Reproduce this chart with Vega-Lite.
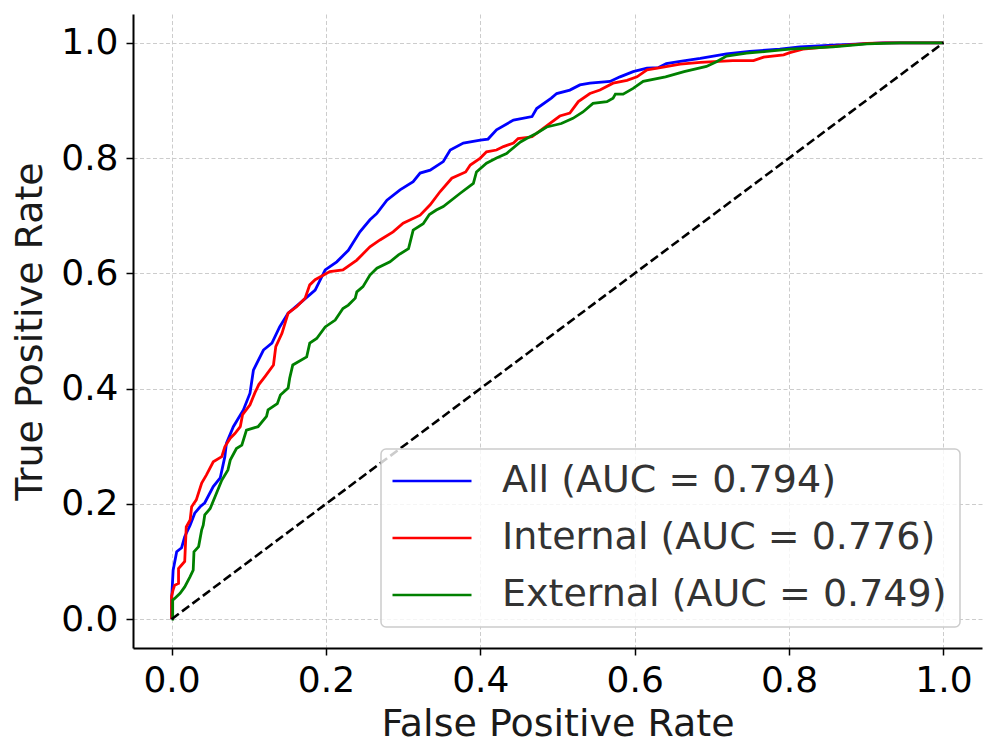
{
  "$schema": "https://vega.github.io/schema/vega-lite/v6.json",
  "width": 849,
  "height": 634,
  "autosize": {"type": "none"},
  "padding": {"left": 133, "top": 14, "right": 14, "bottom": 108},
  "background": "white",
  "config": {
    "view": {"stroke": null},
    "font": "DejaVu Sans",
    "axis": {
      "grid": true,
      "gridColor": "#cccccc",
      "gridDash": [4, 2.5],
      "gridWidth": 1,
      "domainColor": "#000000",
      "domainWidth": 2,
      "tickColor": "#000000",
      "tickWidth": 1.5,
      "tickSize": 7,
      "labelFont": "DejaVu Sans",
      "labelFontSize": 36,
      "labelColor": "#000000",
      "labelPadding": 8,
      "labelFlush": false,
      "labelOverlap": false,
      "titleFont": "DejaVu Sans",
      "titleFontSize": 38,
      "titleFontWeight": "normal",
      "titleColor": "#1a1a1a"
    },
    "legend": {
      "orient": "none",
      "legendX": 248,
      "legendY": 435,
      "padding": 13,
      "cornerRadius": 5,
      "strokeColor": "#cccccc",
      "strokeWidth": 1.5,
      "fillColor": "rgba(255,255,255,0.8)",
      "labelFont": "DejaVu Sans",
      "labelFontSize": 38,
      "labelColor": "#333333",
      "labelLimit": 0,
      "labelOffset": 51,
      "rowPadding": 19,
      "symbolType": "M-4,0L4,0",
      "symbolSize": 390,
      "symbolOffset": 19,
      "symbolStrokeWidth": 2.5
    }
  },
  "datasets": {
    "roc": [
      {"series": "All (AUC = 0.794)", "i": 0, "fpr": 0, "tpr": 0},
      {"series": "All (AUC = 0.794)", "i": 1, "fpr": 0, "tpr": 0.033},
      {"series": "All (AUC = 0.794)", "i": 2, "fpr": 0.002, "tpr": 0.085},
      {"series": "All (AUC = 0.794)", "i": 3, "fpr": 0.0066, "tpr": 0.117},
      {"series": "All (AUC = 0.794)", "i": 4, "fpr": 0.013, "tpr": 0.124},
      {"series": "All (AUC = 0.794)", "i": 5, "fpr": 0.017, "tpr": 0.143},
      {"series": "All (AUC = 0.794)", "i": 6, "fpr": 0.024, "tpr": 0.163},
      {"series": "All (AUC = 0.794)", "i": 7, "fpr": 0.030, "tpr": 0.184},
      {"series": "All (AUC = 0.794)", "i": 8, "fpr": 0.037, "tpr": 0.195},
      {"series": "All (AUC = 0.794)", "i": 9, "fpr": 0.043, "tpr": 0.202},
      {"series": "All (AUC = 0.794)", "i": 10, "fpr": 0.054, "tpr": 0.230},
      {"series": "All (AUC = 0.794)", "i": 11, "fpr": 0.063, "tpr": 0.245},
      {"series": "All (AUC = 0.794)", "i": 12, "fpr": 0.069, "tpr": 0.282},
      {"series": "All (AUC = 0.794)", "i": 13, "fpr": 0.071, "tpr": 0.305},
      {"series": "All (AUC = 0.794)", "i": 14, "fpr": 0.080, "tpr": 0.334},
      {"series": "All (AUC = 0.794)", "i": 15, "fpr": 0.093, "tpr": 0.363},
      {"series": "All (AUC = 0.794)", "i": 16, "fpr": 0.1016, "tpr": 0.392},
      {"series": "All (AUC = 0.794)", "i": 17, "fpr": 0.106, "tpr": 0.432},
      {"series": "All (AUC = 0.794)", "i": 18, "fpr": 0.119, "tpr": 0.467},
      {"series": "All (AUC = 0.794)", "i": 19, "fpr": 0.130, "tpr": 0.479},
      {"series": "All (AUC = 0.794)", "i": 20, "fpr": 0.140, "tpr": 0.507},
      {"series": "All (AUC = 0.794)", "i": 21, "fpr": 0.151, "tpr": 0.531},
      {"series": "All (AUC = 0.794)", "i": 22, "fpr": 0.166, "tpr": 0.548},
      {"series": "All (AUC = 0.794)", "i": 23, "fpr": 0.186, "tpr": 0.571},
      {"series": "All (AUC = 0.794)", "i": 24, "fpr": 0.199, "tpr": 0.606},
      {"series": "All (AUC = 0.794)", "i": 25, "fpr": 0.214, "tpr": 0.620},
      {"series": "All (AUC = 0.794)", "i": 26, "fpr": 0.229, "tpr": 0.640},
      {"series": "All (AUC = 0.794)", "i": 27, "fpr": 0.244, "tpr": 0.672},
      {"series": "All (AUC = 0.794)", "i": 28, "fpr": 0.257, "tpr": 0.693},
      {"series": "All (AUC = 0.794)", "i": 29, "fpr": 0.266, "tpr": 0.704},
      {"series": "All (AUC = 0.794)", "i": 30, "fpr": 0.279, "tpr": 0.727},
      {"series": "All (AUC = 0.794)", "i": 31, "fpr": 0.296, "tpr": 0.745},
      {"series": "All (AUC = 0.794)", "i": 32, "fpr": 0.313, "tpr": 0.759},
      {"series": "All (AUC = 0.794)", "i": 33, "fpr": 0.322, "tpr": 0.774},
      {"series": "All (AUC = 0.794)", "i": 34, "fpr": 0.335, "tpr": 0.779},
      {"series": "All (AUC = 0.794)", "i": 35, "fpr": 0.352, "tpr": 0.794},
      {"series": "All (AUC = 0.794)", "i": 36, "fpr": 0.361, "tpr": 0.814},
      {"series": "All (AUC = 0.794)", "i": 37, "fpr": 0.378, "tpr": 0.826},
      {"series": "All (AUC = 0.794)", "i": 38, "fpr": 0.400, "tpr": 0.831},
      {"series": "All (AUC = 0.794)", "i": 39, "fpr": 0.410, "tpr": 0.833},
      {"series": "All (AUC = 0.794)", "i": 40, "fpr": 0.421, "tpr": 0.849},
      {"series": "All (AUC = 0.794)", "i": 41, "fpr": 0.443, "tpr": 0.866},
      {"series": "All (AUC = 0.794)", "i": 42, "fpr": 0.467, "tpr": 0.872},
      {"series": "All (AUC = 0.794)", "i": 43, "fpr": 0.473, "tpr": 0.886},
      {"series": "All (AUC = 0.794)", "i": 44, "fpr": 0.492, "tpr": 0.904},
      {"series": "All (AUC = 0.794)", "i": 45, "fpr": 0.499, "tpr": 0.912},
      {"series": "All (AUC = 0.794)", "i": 46, "fpr": 0.516, "tpr": 0.918},
      {"series": "All (AUC = 0.794)", "i": 47, "fpr": 0.529, "tpr": 0.927},
      {"series": "All (AUC = 0.794)", "i": 48, "fpr": 0.542, "tpr": 0.930},
      {"series": "All (AUC = 0.794)", "i": 49, "fpr": 0.568, "tpr": 0.933},
      {"series": "All (AUC = 0.794)", "i": 50, "fpr": 0.581, "tpr": 0.941},
      {"series": "All (AUC = 0.794)", "i": 51, "fpr": 0.598, "tpr": 0.950},
      {"series": "All (AUC = 0.794)", "i": 52, "fpr": 0.616, "tpr": 0.956},
      {"series": "All (AUC = 0.794)", "i": 53, "fpr": 0.631, "tpr": 0.957},
      {"series": "All (AUC = 0.794)", "i": 54, "fpr": 0.641, "tpr": 0.964},
      {"series": "All (AUC = 0.794)", "i": 55, "fpr": 0.659, "tpr": 0.968},
      {"series": "All (AUC = 0.794)", "i": 56, "fpr": 0.685, "tpr": 0.973},
      {"series": "All (AUC = 0.794)", "i": 57, "fpr": 0.719, "tpr": 0.981},
      {"series": "All (AUC = 0.794)", "i": 58, "fpr": 0.749, "tpr": 0.985},
      {"series": "All (AUC = 0.794)", "i": 59, "fpr": 0.788, "tpr": 0.989},
      {"series": "All (AUC = 0.794)", "i": 60, "fpr": 0.814, "tpr": 0.993},
      {"series": "All (AUC = 0.794)", "i": 61, "fpr": 0.857, "tpr": 0.996},
      {"series": "All (AUC = 0.794)", "i": 62, "fpr": 0.922, "tpr": 1.0},
      {"series": "All (AUC = 0.794)", "i": 63, "fpr": 1.0, "tpr": 1.0},

      {"series": "Internal (AUC = 0.776)", "i": 0, "fpr": 0, "tpr": 0},
      {"series": "Internal (AUC = 0.776)", "i": 1, "fpr": 0, "tpr": 0.040},
      {"series": "Internal (AUC = 0.776)", "i": 2, "fpr": 0.002, "tpr": 0.051},
      {"series": "Internal (AUC = 0.776)", "i": 3, "fpr": 0.004, "tpr": 0.059},
      {"series": "Internal (AUC = 0.776)", "i": 4, "fpr": 0.009, "tpr": 0.062},
      {"series": "Internal (AUC = 0.776)", "i": 5, "fpr": 0.009, "tpr": 0.088},
      {"series": "Internal (AUC = 0.776)", "i": 6, "fpr": 0.013, "tpr": 0.094},
      {"series": "Internal (AUC = 0.776)", "i": 7, "fpr": 0.017, "tpr": 0.100},
      {"series": "Internal (AUC = 0.776)", "i": 8, "fpr": 0.019, "tpr": 0.160},
      {"series": "Internal (AUC = 0.776)", "i": 9, "fpr": 0.024, "tpr": 0.172},
      {"series": "Internal (AUC = 0.776)", "i": 10, "fpr": 0.026, "tpr": 0.195},
      {"series": "Internal (AUC = 0.776)", "i": 11, "fpr": 0.032, "tpr": 0.207},
      {"series": "Internal (AUC = 0.776)", "i": 12, "fpr": 0.039, "tpr": 0.236},
      {"series": "Internal (AUC = 0.776)", "i": 13, "fpr": 0.045, "tpr": 0.250},
      {"series": "Internal (AUC = 0.776)", "i": 14, "fpr": 0.054, "tpr": 0.273},
      {"series": "Internal (AUC = 0.776)", "i": 15, "fpr": 0.065, "tpr": 0.282},
      {"series": "Internal (AUC = 0.776)", "i": 16, "fpr": 0.069, "tpr": 0.299},
      {"series": "Internal (AUC = 0.776)", "i": 17, "fpr": 0.076, "tpr": 0.314},
      {"series": "Internal (AUC = 0.776)", "i": 18, "fpr": 0.082, "tpr": 0.322},
      {"series": "Internal (AUC = 0.776)", "i": 19, "fpr": 0.089, "tpr": 0.334},
      {"series": "Internal (AUC = 0.776)", "i": 20, "fpr": 0.092, "tpr": 0.355},
      {"series": "Internal (AUC = 0.776)", "i": 21, "fpr": 0.1016, "tpr": 0.372},
      {"series": "Internal (AUC = 0.776)", "i": 22, "fpr": 0.108, "tpr": 0.393},
      {"series": "Internal (AUC = 0.776)", "i": 23, "fpr": 0.113, "tpr": 0.407},
      {"series": "Internal (AUC = 0.776)", "i": 24, "fpr": 0.121, "tpr": 0.421},
      {"series": "Internal (AUC = 0.776)", "i": 25, "fpr": 0.132, "tpr": 0.441},
      {"series": "Internal (AUC = 0.776)", "i": 26, "fpr": 0.135, "tpr": 0.473},
      {"series": "Internal (AUC = 0.776)", "i": 27, "fpr": 0.143, "tpr": 0.496},
      {"series": "Internal (AUC = 0.776)", "i": 28, "fpr": 0.151, "tpr": 0.531},
      {"series": "Internal (AUC = 0.776)", "i": 29, "fpr": 0.162, "tpr": 0.542},
      {"series": "Internal (AUC = 0.776)", "i": 30, "fpr": 0.173, "tpr": 0.557},
      {"series": "Internal (AUC = 0.776)", "i": 31, "fpr": 0.179, "tpr": 0.580},
      {"series": "Internal (AUC = 0.776)", "i": 32, "fpr": 0.186, "tpr": 0.589},
      {"series": "Internal (AUC = 0.776)", "i": 33, "fpr": 0.197, "tpr": 0.597},
      {"series": "Internal (AUC = 0.776)", "i": 34, "fpr": 0.205, "tpr": 0.603},
      {"series": "Internal (AUC = 0.776)", "i": 35, "fpr": 0.222, "tpr": 0.606},
      {"series": "Internal (AUC = 0.776)", "i": 36, "fpr": 0.240, "tpr": 0.623},
      {"series": "Internal (AUC = 0.776)", "i": 37, "fpr": 0.257, "tpr": 0.646},
      {"series": "Internal (AUC = 0.776)", "i": 38, "fpr": 0.270, "tpr": 0.658},
      {"series": "Internal (AUC = 0.776)", "i": 39, "fpr": 0.287, "tpr": 0.672},
      {"series": "Internal (AUC = 0.776)", "i": 40, "fpr": 0.300, "tpr": 0.687},
      {"series": "Internal (AUC = 0.776)", "i": 41, "fpr": 0.322, "tpr": 0.701},
      {"series": "Internal (AUC = 0.776)", "i": 42, "fpr": 0.335, "tpr": 0.719},
      {"series": "Internal (AUC = 0.776)", "i": 43, "fpr": 0.348, "tpr": 0.742},
      {"series": "Internal (AUC = 0.776)", "i": 44, "fpr": 0.363, "tpr": 0.765},
      {"series": "Internal (AUC = 0.776)", "i": 45, "fpr": 0.381, "tpr": 0.776},
      {"series": "Internal (AUC = 0.776)", "i": 46, "fpr": 0.387, "tpr": 0.788},
      {"series": "Internal (AUC = 0.776)", "i": 47, "fpr": 0.400, "tpr": 0.800},
      {"series": "Internal (AUC = 0.776)", "i": 48, "fpr": 0.408, "tpr": 0.811},
      {"series": "Internal (AUC = 0.776)", "i": 49, "fpr": 0.421, "tpr": 0.814},
      {"series": "Internal (AUC = 0.776)", "i": 50, "fpr": 0.430, "tpr": 0.820},
      {"series": "Internal (AUC = 0.776)", "i": 51, "fpr": 0.443, "tpr": 0.826},
      {"series": "Internal (AUC = 0.776)", "i": 52, "fpr": 0.449, "tpr": 0.834},
      {"series": "Internal (AUC = 0.776)", "i": 53, "fpr": 0.467, "tpr": 0.837},
      {"series": "Internal (AUC = 0.776)", "i": 54, "fpr": 0.482, "tpr": 0.852},
      {"series": "Internal (AUC = 0.776)", "i": 55, "fpr": 0.503, "tpr": 0.873},
      {"series": "Internal (AUC = 0.776)", "i": 56, "fpr": 0.516, "tpr": 0.878},
      {"series": "Internal (AUC = 0.776)", "i": 57, "fpr": 0.527, "tpr": 0.898},
      {"series": "Internal (AUC = 0.776)", "i": 58, "fpr": 0.542, "tpr": 0.912},
      {"series": "Internal (AUC = 0.776)", "i": 59, "fpr": 0.555, "tpr": 0.918},
      {"series": "Internal (AUC = 0.776)", "i": 60, "fpr": 0.572, "tpr": 0.930},
      {"series": "Internal (AUC = 0.776)", "i": 61, "fpr": 0.590, "tpr": 0.935},
      {"series": "Internal (AUC = 0.776)", "i": 62, "fpr": 0.603, "tpr": 0.941},
      {"series": "Internal (AUC = 0.776)", "i": 63, "fpr": 0.616, "tpr": 0.953},
      {"series": "Internal (AUC = 0.776)", "i": 64, "fpr": 0.637, "tpr": 0.958},
      {"series": "Internal (AUC = 0.776)", "i": 65, "fpr": 0.659, "tpr": 0.963},
      {"series": "Internal (AUC = 0.776)", "i": 66, "fpr": 0.685, "tpr": 0.966},
      {"series": "Internal (AUC = 0.776)", "i": 67, "fpr": 0.727, "tpr": 0.969},
      {"series": "Internal (AUC = 0.776)", "i": 68, "fpr": 0.754, "tpr": 0.969},
      {"series": "Internal (AUC = 0.776)", "i": 69, "fpr": 0.767, "tpr": 0.975},
      {"series": "Internal (AUC = 0.776)", "i": 70, "fpr": 0.793, "tpr": 0.979},
      {"series": "Internal (AUC = 0.776)", "i": 71, "fpr": 0.801, "tpr": 0.983},
      {"series": "Internal (AUC = 0.776)", "i": 72, "fpr": 0.818, "tpr": 0.989},
      {"series": "Internal (AUC = 0.776)", "i": 73, "fpr": 0.857, "tpr": 0.994},
      {"series": "Internal (AUC = 0.776)", "i": 74, "fpr": 0.901, "tpr": 0.999},
      {"series": "Internal (AUC = 0.776)", "i": 75, "fpr": 0.926, "tpr": 1.0},
      {"series": "Internal (AUC = 0.776)", "i": 76, "fpr": 1.0, "tpr": 1.0},

      {"series": "External (AUC = 0.749)", "i": 0, "fpr": 0, "tpr": 0},
      {"series": "External (AUC = 0.749)", "i": 1, "fpr": 0.0014, "tpr": 0.0},
      {"series": "External (AUC = 0.749)", "i": 2, "fpr": 0.0014, "tpr": 0.033},
      {"series": "External (AUC = 0.749)", "i": 3, "fpr": 0.004, "tpr": 0.036},
      {"series": "External (AUC = 0.749)", "i": 4, "fpr": 0.011, "tpr": 0.045},
      {"series": "External (AUC = 0.749)", "i": 5, "fpr": 0.017, "tpr": 0.056},
      {"series": "External (AUC = 0.749)", "i": 6, "fpr": 0.024, "tpr": 0.074},
      {"series": "External (AUC = 0.749)", "i": 7, "fpr": 0.028, "tpr": 0.085},
      {"series": "External (AUC = 0.749)", "i": 8, "fpr": 0.029, "tpr": 0.117},
      {"series": "External (AUC = 0.749)", "i": 9, "fpr": 0.035, "tpr": 0.126},
      {"series": "External (AUC = 0.749)", "i": 10, "fpr": 0.039, "tpr": 0.155},
      {"series": "External (AUC = 0.749)", "i": 11, "fpr": 0.041, "tpr": 0.163},
      {"series": "External (AUC = 0.749)", "i": 12, "fpr": 0.043, "tpr": 0.181},
      {"series": "External (AUC = 0.749)", "i": 13, "fpr": 0.050, "tpr": 0.192},
      {"series": "External (AUC = 0.749)", "i": 14, "fpr": 0.058, "tpr": 0.218},
      {"series": "External (AUC = 0.749)", "i": 15, "fpr": 0.065, "tpr": 0.241},
      {"series": "External (AUC = 0.749)", "i": 16, "fpr": 0.073, "tpr": 0.259},
      {"series": "External (AUC = 0.749)", "i": 17, "fpr": 0.076, "tpr": 0.276},
      {"series": "External (AUC = 0.749)", "i": 18, "fpr": 0.084, "tpr": 0.296},
      {"series": "External (AUC = 0.749)", "i": 19, "fpr": 0.091, "tpr": 0.302},
      {"series": "External (AUC = 0.749)", "i": 20, "fpr": 0.097, "tpr": 0.328},
      {"series": "External (AUC = 0.749)", "i": 21, "fpr": 0.112, "tpr": 0.334},
      {"series": "External (AUC = 0.749)", "i": 22, "fpr": 0.123, "tpr": 0.352},
      {"series": "External (AUC = 0.749)", "i": 23, "fpr": 0.125, "tpr": 0.363},
      {"series": "External (AUC = 0.749)", "i": 24, "fpr": 0.137, "tpr": 0.374},
      {"series": "External (AUC = 0.749)", "i": 25, "fpr": 0.141, "tpr": 0.389},
      {"series": "External (AUC = 0.749)", "i": 26, "fpr": 0.151, "tpr": 0.401},
      {"series": "External (AUC = 0.749)", "i": 27, "fpr": 0.153, "tpr": 0.418},
      {"series": "External (AUC = 0.749)", "i": 28, "fpr": 0.157, "tpr": 0.441},
      {"series": "External (AUC = 0.749)", "i": 29, "fpr": 0.175, "tpr": 0.455},
      {"series": "External (AUC = 0.749)", "i": 30, "fpr": 0.179, "tpr": 0.479},
      {"series": "External (AUC = 0.749)", "i": 31, "fpr": 0.188, "tpr": 0.487},
      {"series": "External (AUC = 0.749)", "i": 32, "fpr": 0.199, "tpr": 0.507},
      {"series": "External (AUC = 0.749)", "i": 33, "fpr": 0.212, "tpr": 0.519},
      {"series": "External (AUC = 0.749)", "i": 34, "fpr": 0.222, "tpr": 0.539},
      {"series": "External (AUC = 0.749)", "i": 35, "fpr": 0.229, "tpr": 0.545},
      {"series": "External (AUC = 0.749)", "i": 36, "fpr": 0.238, "tpr": 0.557},
      {"series": "External (AUC = 0.749)", "i": 37, "fpr": 0.240, "tpr": 0.568},
      {"series": "External (AUC = 0.749)", "i": 38, "fpr": 0.248, "tpr": 0.577},
      {"series": "External (AUC = 0.749)", "i": 39, "fpr": 0.257, "tpr": 0.597},
      {"series": "External (AUC = 0.749)", "i": 40, "fpr": 0.266, "tpr": 0.609},
      {"series": "External (AUC = 0.749)", "i": 41, "fpr": 0.283, "tpr": 0.620},
      {"series": "External (AUC = 0.749)", "i": 42, "fpr": 0.294, "tpr": 0.632},
      {"series": "External (AUC = 0.749)", "i": 43, "fpr": 0.307, "tpr": 0.643},
      {"series": "External (AUC = 0.749)", "i": 44, "fpr": 0.313, "tpr": 0.675},
      {"series": "External (AUC = 0.749)", "i": 45, "fpr": 0.326, "tpr": 0.686},
      {"series": "External (AUC = 0.749)", "i": 46, "fpr": 0.334, "tpr": 0.702},
      {"series": "External (AUC = 0.749)", "i": 47, "fpr": 0.343, "tpr": 0.710},
      {"series": "External (AUC = 0.749)", "i": 48, "fpr": 0.352, "tpr": 0.716},
      {"series": "External (AUC = 0.749)", "i": 49, "fpr": 0.374, "tpr": 0.739},
      {"series": "External (AUC = 0.749)", "i": 50, "fpr": 0.391, "tpr": 0.756},
      {"series": "External (AUC = 0.749)", "i": 51, "fpr": 0.395, "tpr": 0.776},
      {"series": "External (AUC = 0.749)", "i": 52, "fpr": 0.408, "tpr": 0.791},
      {"series": "External (AUC = 0.749)", "i": 53, "fpr": 0.421, "tpr": 0.800},
      {"series": "External (AUC = 0.749)", "i": 54, "fpr": 0.434, "tpr": 0.808},
      {"series": "External (AUC = 0.749)", "i": 55, "fpr": 0.452, "tpr": 0.828},
      {"series": "External (AUC = 0.749)", "i": 56, "fpr": 0.460, "tpr": 0.834},
      {"series": "External (AUC = 0.749)", "i": 57, "fpr": 0.473, "tpr": 0.843},
      {"series": "External (AUC = 0.749)", "i": 58, "fpr": 0.486, "tpr": 0.854},
      {"series": "External (AUC = 0.749)", "i": 59, "fpr": 0.505, "tpr": 0.860},
      {"series": "External (AUC = 0.749)", "i": 60, "fpr": 0.520, "tpr": 0.869},
      {"series": "External (AUC = 0.749)", "i": 61, "fpr": 0.533, "tpr": 0.880},
      {"series": "External (AUC = 0.749)", "i": 62, "fpr": 0.546, "tpr": 0.895},
      {"series": "External (AUC = 0.749)", "i": 63, "fpr": 0.564, "tpr": 0.898},
      {"series": "External (AUC = 0.749)", "i": 64, "fpr": 0.572, "tpr": 0.904},
      {"series": "External (AUC = 0.749)", "i": 65, "fpr": 0.575, "tpr": 0.911},
      {"series": "External (AUC = 0.749)", "i": 66, "fpr": 0.585, "tpr": 0.911},
      {"series": "External (AUC = 0.749)", "i": 67, "fpr": 0.598, "tpr": 0.921},
      {"series": "External (AUC = 0.749)", "i": 68, "fpr": 0.611, "tpr": 0.933},
      {"series": "External (AUC = 0.749)", "i": 69, "fpr": 0.640, "tpr": 0.941},
      {"series": "External (AUC = 0.749)", "i": 70, "fpr": 0.664, "tpr": 0.950},
      {"series": "External (AUC = 0.749)", "i": 71, "fpr": 0.693, "tpr": 0.959},
      {"series": "External (AUC = 0.749)", "i": 72, "fpr": 0.706, "tpr": 0.967},
      {"series": "External (AUC = 0.749)", "i": 73, "fpr": 0.719, "tpr": 0.977},
      {"series": "External (AUC = 0.749)", "i": 74, "fpr": 0.745, "tpr": 0.982},
      {"series": "External (AUC = 0.749)", "i": 75, "fpr": 0.771, "tpr": 0.985},
      {"series": "External (AUC = 0.749)", "i": 76, "fpr": 0.801, "tpr": 0.989},
      {"series": "External (AUC = 0.749)", "i": 77, "fpr": 0.857, "tpr": 0.993},
      {"series": "External (AUC = 0.749)", "i": 78, "fpr": 0.901, "tpr": 0.998},
      {"series": "External (AUC = 0.749)", "i": 79, "fpr": 0.944, "tpr": 1.0},
      {"series": "External (AUC = 0.749)", "i": 80, "fpr": 1.0, "tpr": 1.0}
    ],
    "diag": [
      {"fpr": 0, "tpr": 0},
      {"fpr": 1, "tpr": 1}
    ]
  },
  "layer": [
    {
      "data": {"name": "roc"},
      "mark": {"type": "line", "strokeWidth": 2.8},
      "encoding": {
        "x": {
          "field": "fpr", "type": "quantitative",
          "scale": {"domain": [-0.05, 1.05], "nice": false, "zero": false},
          "axis": {"values": [0, 0.2, 0.4, 0.6, 0.8, 1.0], "format": ".1f", "title": "False Positive Rate", "titleY": 87, "titleBaseline": "alphabetic"}
        },
        "y": {
          "field": "tpr", "type": "quantitative",
          "scale": {"domain": [-0.05, 1.05], "nice": false, "zero": false},
          "axis": {"values": [0, 0.2, 0.4, 0.6, 0.8, 1.0], "format": ".1f", "title": "True Positive Rate", "titleX": -92, "titleBaseline": "alphabetic", "titleAngle": -90}
        },
        "color": {
          "field": "series", "type": "nominal",
          "scale": {"domain": ["All (AUC = 0.794)", "Internal (AUC = 0.776)", "External (AUC = 0.749)"], "range": ["#0000ff", "#ff0000", "#008000"]},
          "legend": {"title": null}
        },
        "order": {"field": "i", "type": "quantitative"}
      }
    },
    {
      "data": {"name": "diag"},
      "mark": {"type": "line", "color": "#000000", "strokeWidth": 2.6, "strokeDash": [9, 4]},
      "encoding": {
        "x": {"field": "fpr", "type": "quantitative"},
        "y": {"field": "tpr", "type": "quantitative"}
      }
    }
  ]
}
